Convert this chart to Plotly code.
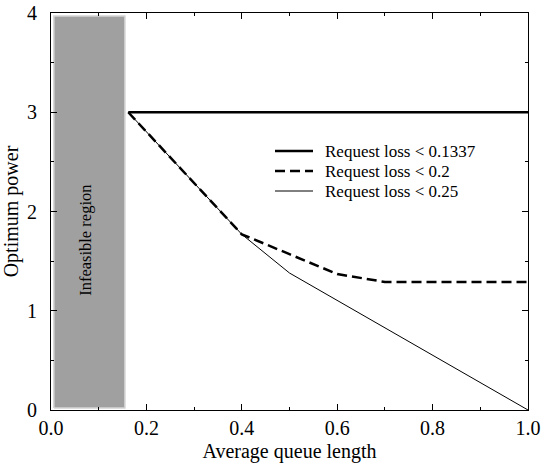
import plotly.graph_objects as go

# Data
x_loss_01337 = [0.162, 1.0]
y_loss_01337 = [3.0, 3.0]

x_loss_02 = [0.162, 0.4, 0.5, 0.6, 0.7, 1.0]
y_loss_02 = [3.0, 1.77, 1.57, 1.37, 1.29, 1.29]

x_loss_025 = [0.162, 0.4, 0.5, 1.0]
y_loss_025 = [3.0, 1.77, 1.38, 0.0]

infeasible_x = [0.006, 0.155]
infeasible_y = [0.02, 3.97]

x_ticks = [0.0, 0.2, 0.4, 0.6, 0.8, 1.0]
y_ticks = [0, 1, 2, 3, 4]

series_names = ["Request loss < 0.1337", "Request loss < 0.2", "Request loss < 0.25"]

FONT = "Liberation Serif"

W, H = 541, 463
ML, MR, MT, MB = 51, 13, 13, 53
PW, PH = W - ML - MR, H - MT - MB

fig = go.Figure()

# Infeasible region
fig.add_trace(go.Scatter(
    x=[infeasible_x[0], infeasible_x[1], infeasible_x[1], infeasible_x[0], infeasible_x[0]],
    y=[infeasible_y[0], infeasible_y[0], infeasible_y[1], infeasible_y[1], infeasible_y[0]],
    mode="lines", fill="toself", fillcolor="#a0a0a0",
    line=dict(color="#d4d4d4", width=1.5), showlegend=False, hoverinfo="skip"))

styles = [dict(color="black", width=2.5),
          dict(color="black", width=2.5, dash="10px,5px"),
          dict(color="black", width=1)]

fig.add_trace(go.Scatter(x=x_loss_025, y=y_loss_025, mode="lines",
                         name=series_names[2], line=styles[2], showlegend=False))
fig.add_trace(go.Scatter(x=x_loss_02, y=y_loss_02, mode="lines",
                         name=series_names[1], line=styles[1], showlegend=False))
fig.add_trace(go.Scatter(x=x_loss_01337, y=y_loss_01337, mode="lines",
                         name=series_names[0], line=styles[0], showlegend=False))

# Hand-built legend (tight row spacing as in the reference)
leg_x0, leg_x1, leg_tx = 224, 262, 272   # px from plot left
leg_rows = [138, 158, 178]               # px from plot top
for name, st, ry in zip(series_names, styles, leg_rows):
    yp = 1 - ry / PH
    fig.add_shape(type="line", xref="paper", yref="paper",
                  x0=leg_x0 / PW, x1=leg_x1 / PW, y0=yp, y1=yp, line=st)
    fig.add_annotation(xref="paper", yref="paper", x=leg_tx / PW, y=yp,
                       xanchor="left", yanchor="middle", text=name, showarrow=False,
                       font=dict(family=FONT, size=17, color="black"))

fig.add_annotation(x=(infeasible_x[0] + infeasible_x[1]) / 2 - 0.008, y=1.71,
                   text="Infeasible region", textangle=-90, showarrow=False,
                   font=dict(family=FONT, size=16.5, color="black"))

axis_common = dict(
    showline=True, linecolor="black", linewidth=1, mirror="allticks",
    ticks="inside", ticklen=6, tickcolor="black", tickwidth=1,
    showgrid=False, zeroline=False, automargin=False,
    ticklabeloverflow="allow",
    tickfont=dict(family=FONT, size=20, color="black"),
)

fig.update_xaxes(range=[0, 1.0], tickvals=x_ticks,
                 ticktext=[f"{v:.1f}" for v in x_ticks],
                 minor=dict(ticks="inside", dtick=0.1, tick0=0, ticklen=3, tickcolor="black", showgrid=False),
                 title=dict(text="Average queue length", font=dict(family=FONT, size=20, color="black")),
                 **axis_common)
fig.update_yaxes(range=[0, 4], tickvals=y_ticks,
                 ticktext=[str(v) for v in y_ticks],
                 ticklabelstandoff=9,
                 minor=dict(ticks="inside", dtick=0.5, tick0=0, ticklen=3, tickcolor="black", showgrid=False),
                 title=dict(text="Optimum power", font=dict(family=FONT, size=20, color="black")),
                 **axis_common)

fig.update_layout(
    width=W, height=H,
    margin=dict(l=ML, r=MR, t=MT, b=MB),
    paper_bgcolor="white", plot_bgcolor="white",
    font=dict(family=FONT, color="black"),
    showlegend=False,
)

fig.write_html("out.html", config={"displayModeBar": False},
               post_script="document.body.style.margin='0';document.documentElement.style.overflow='hidden';")
